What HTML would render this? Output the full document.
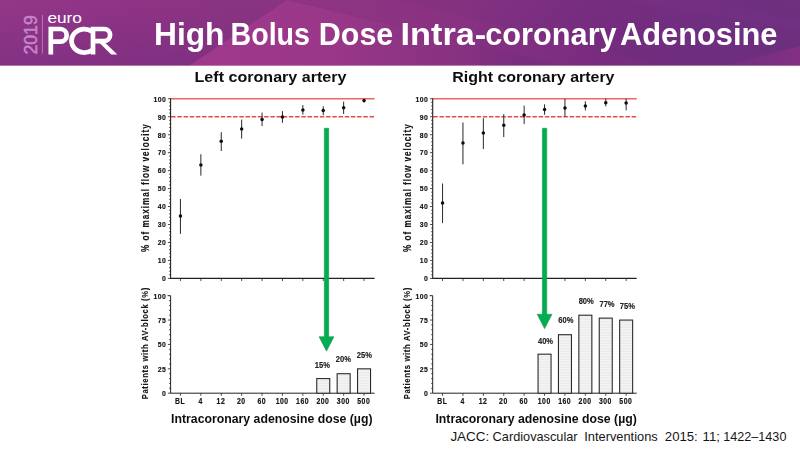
<!DOCTYPE html>
<html><head><meta charset="utf-8"><title>High Bolus Dose Intra-coronary Adenosine</title>
<style>
html,body{margin:0;padding:0;background:#fff;}
body{width:800px;height:450px;overflow:hidden;font-family:"Liberation Sans", sans-serif;}
svg{display:block;font-family:"Liberation Sans", sans-serif;}
</style></head><body>
<svg width="800" height="450" viewBox="0 0 800 450">
<defs>
<linearGradient id="hg" gradientUnits="userSpaceOnUse" x1="0" y1="0" x2="800" y2="0">
<stop offset="0" stop-color="#933688"/>
<stop offset="0.175" stop-color="#8f3385"/>
<stop offset="0.29" stop-color="#8b3483"/>
<stop offset="0.56" stop-color="#853180"/>
<stop offset="0.75" stop-color="#762d80"/>
<stop offset="0.9" stop-color="#702f80"/>
<stop offset="1" stop-color="#6f3080"/>
</linearGradient>
<linearGradient id="ld" x1="0" y1="0" x2="0" y2="1">
<stop offset="0" stop-color="#5a2878" stop-opacity="0"/>
<stop offset="1" stop-color="#5a2878" stop-opacity="0.27"/>
</linearGradient>
<linearGradient id="tri" gradientUnits="userSpaceOnUse" x1="200" y1="0" x2="520" y2="0">
<stop offset="0" stop-color="#c8429b" stop-opacity="0.30"/>
<stop offset="0.4" stop-color="#c8429b" stop-opacity="0.29"/>
<stop offset="0.64" stop-color="#c8429b" stop-opacity="0.11"/>
<stop offset="1" stop-color="#c8429b" stop-opacity="0"/>
</linearGradient>
<linearGradient id="br" gradientUnits="userSpaceOnUse" x1="725" y1="0" x2="800" y2="0">
<stop offset="0" stop-color="#a03287" stop-opacity="0.08"/>
<stop offset="1" stop-color="#a03287" stop-opacity="0.42"/>
</linearGradient>
<linearGradient id="bd" x1="0" y1="0" x2="0" y2="1">
<stop offset="0" stop-color="#5a2070" stop-opacity="0"/>
<stop offset="1" stop-color="#5a2070" stop-opacity="0.12"/>
</linearGradient>
<filter id="soft2" x="-2%" y="-20%" width="104%" height="140%"><feGaussianBlur stdDeviation="0.3"/></filter>
<filter id="soft" x="-5%" y="-5%" width="110%" height="110%"><feGaussianBlur stdDeviation="0.27"/></filter>
<pattern id="hatch" width="4" height="1.6" patternUnits="userSpaceOnUse">
<rect width="4" height="1.6" fill="#f6f6f6"/><rect y="0.8" width="4" height="0.8" fill="#e9e9e9"/>
</pattern>
</defs>
<rect width="800" height="450" fill="#fff"/>
<!-- header -->
<rect width="800" height="65.6" fill="url(#hg)"/>
<polygon points="0,0 287,0 189.5,65.6 0,65.6" fill="url(#ld)"/>
<polygon points="287,0 189.5,65.6 560,65.6" fill="url(#tri)"/>
<polygon points="290,0 400,0 660,65.6 560,65.6" fill="#c8429b" opacity="0.08"/>
<polygon points="480,0 800,0 800,65.6 480,65.6" fill="url(#bd)"/>
<polygon points="725,65.6 800,46 800,65.6" fill="url(#br)"/>
<polygon points="620,0 710,0 800,22 800,30" fill="#8a3a98" opacity="0.14"/>
<!-- logo -->
<text transform="translate(37 54.6) rotate(-90)" font-size="18.2" fill="#c985cc" stroke="#c985cc" stroke-width="0.5" textLength="39.4" lengthAdjust="spacingAndGlyphs">2019</text>
<line x1="42.4" y1="15" x2="42.4" y2="53.6" stroke="#c488c8" stroke-width="0.8"/>
<text x="47.4" y="22.8" font-size="14" fill="#fff" textLength="34.6" lengthAdjust="spacingAndGlyphs">euro</text>
<g fill="none" stroke="#fff" stroke-width="4.7" stroke-linejoin="miter">
<path d="M50.8 54.4V29H60.4a6.3 6.3 0 0 1 0 12.6H50.8"/>
<path d="M92.1 31.5A12.8 11.75 0 1 0 92.1 50.1"/>
<path d="M93 54.4V29H104a6.1 6.1 0 0 1 0 12.2H93"/>
</g>
<polygon points="99.6,43 105.4,43 117.3,54.4 111.2,54.4" fill="#fff"/>
<!-- title -->
<g filter="url(#soft2)">
<text x="154.0" y="44.5" font-size="31.3" font-weight="700" fill="#fff" textLength="70.5" lengthAdjust="spacingAndGlyphs">High</text>
<text x="230.5" y="44.5" font-size="31.3" font-weight="700" fill="#fff" textLength="79.5" lengthAdjust="spacingAndGlyphs">Bolus</text>
<text x="318.8" y="44.5" font-size="31.3" font-weight="700" fill="#fff" textLength="74.5" lengthAdjust="spacingAndGlyphs">Dose</text>
<text x="400.5" y="44.5" font-size="31.3" font-weight="700" fill="#fff" textLength="85.7" lengthAdjust="spacingAndGlyphs">Intra-</text>
<text x="485.2" y="44.5" font-size="31.3" font-weight="700" fill="#fff" textLength="131.5" lengthAdjust="spacingAndGlyphs">coronary</text>
<text x="620.0" y="44.5" font-size="31.3" font-weight="700" fill="#fff" textLength="157.5" lengthAdjust="spacingAndGlyphs">Adenosine</text>
</g>
<!-- charts -->
<g filter="url(#soft)"><text x="194.5" y="82.1" font-size="15.3" font-weight="700" fill="#111" textLength="152" lengthAdjust="spacingAndGlyphs">Left coronary artery</text>
<line x1="170.6" y1="98.75" x2="374.6" y2="98.75" stroke="#ec6663" stroke-width="1.5"/>
<line x1="171.1" y1="116.72" x2="374.6" y2="116.72" stroke="#e44c4c" stroke-width="1.35" stroke-dasharray="4.5 1.7"/>
<path d="M170.6 98.25V278.4H374.6" fill="none" stroke="#222" stroke-width="1.1"/>
<path d="M167.90 278.40H170.6M169.10 274.81H170.6M169.10 271.21H170.6M169.10 267.62H170.6M169.10 264.03H170.6M167.90 260.44H170.6M169.10 256.84H170.6M169.10 253.25H170.6M169.10 249.66H170.6M169.10 246.06H170.6M167.90 242.47H170.6M169.10 238.88H170.6M169.10 235.28H170.6M169.10 231.69H170.6M169.10 228.10H170.6M167.90 224.50H170.6M169.10 220.91H170.6M169.10 217.32H170.6M169.10 213.73H170.6M169.10 210.13H170.6M167.90 206.54H170.6M169.10 202.95H170.6M169.10 199.35H170.6M169.10 195.76H170.6M169.10 192.17H170.6M167.90 188.57H170.6M169.10 184.98H170.6M169.10 181.39H170.6M169.10 177.80H170.6M169.10 174.20H170.6M167.90 170.61H170.6M169.10 167.02H170.6M169.10 163.42H170.6M169.10 159.83H170.6M169.10 156.24H170.6M167.90 152.64H170.6M169.10 149.05H170.6M169.10 145.46H170.6M169.10 141.87H170.6M169.10 138.27H170.6M167.90 134.68H170.6M169.10 131.09H170.6M169.10 127.49H170.6M169.10 123.90H170.6M169.10 120.31H170.6M167.90 116.72H170.6M169.10 113.12H170.6M169.10 109.53H170.6M169.10 105.94H170.6M169.10 102.34H170.6M167.90 98.75H170.6M180.45 278.4v2.6M200.85 278.4v2.6M221.25 278.4v2.6M241.65 278.4v2.6M262.05 278.4v2.6M282.45 278.4v2.6M302.85 278.4v2.6M323.25 278.4v2.6M343.65 278.4v2.6M364.05 278.4v2.6" stroke="#222" stroke-width="0.8" fill="none"/>
<text transform="translate(166.10 281.25) scale(0.88 1)" font-size="7.8" font-weight="700" text-anchor="end" fill="#141414" stroke="#141414" stroke-width="0.18" letter-spacing="0.45">0</text>
<text transform="translate(166.10 263.29) scale(0.88 1)" font-size="7.8" font-weight="700" text-anchor="end" fill="#141414" stroke="#141414" stroke-width="0.18" letter-spacing="0.45">10</text>
<text transform="translate(166.10 245.32) scale(0.88 1)" font-size="7.8" font-weight="700" text-anchor="end" fill="#141414" stroke="#141414" stroke-width="0.18" letter-spacing="0.45">20</text>
<text transform="translate(166.10 227.35) scale(0.88 1)" font-size="7.8" font-weight="700" text-anchor="end" fill="#141414" stroke="#141414" stroke-width="0.18" letter-spacing="0.45">30</text>
<text transform="translate(166.10 209.39) scale(0.88 1)" font-size="7.8" font-weight="700" text-anchor="end" fill="#141414" stroke="#141414" stroke-width="0.18" letter-spacing="0.45">40</text>
<text transform="translate(166.10 191.42) scale(0.88 1)" font-size="7.8" font-weight="700" text-anchor="end" fill="#141414" stroke="#141414" stroke-width="0.18" letter-spacing="0.45">50</text>
<text transform="translate(166.10 173.46) scale(0.88 1)" font-size="7.8" font-weight="700" text-anchor="end" fill="#141414" stroke="#141414" stroke-width="0.18" letter-spacing="0.45">60</text>
<text transform="translate(166.10 155.49) scale(0.88 1)" font-size="7.8" font-weight="700" text-anchor="end" fill="#141414" stroke="#141414" stroke-width="0.18" letter-spacing="0.45">70</text>
<text transform="translate(166.10 137.53) scale(0.88 1)" font-size="7.8" font-weight="700" text-anchor="end" fill="#141414" stroke="#141414" stroke-width="0.18" letter-spacing="0.45">80</text>
<text transform="translate(166.10 119.56) scale(0.88 1)" font-size="7.8" font-weight="700" text-anchor="end" fill="#141414" stroke="#141414" stroke-width="0.18" letter-spacing="0.45">90</text>
<text transform="translate(166.10 101.60) scale(0.88 1)" font-size="7.8" font-weight="700" text-anchor="end" fill="#141414" stroke="#141414" stroke-width="0.18" letter-spacing="0.45">100</text>
<text transform="translate(149.30 251.9) rotate(-90) scale(0.76 1)" font-size="10.8" font-weight="700" fill="#141414" stroke="#141414" stroke-width="0.15" textLength="167.9" lengthAdjust="spacing">% of maximal flow velocity</text>
<line x1="180.45" y1="198.99" x2="180.45" y2="233.85" stroke="#2a2a2a" stroke-width="1.0"/>
<circle cx="180.45" cy="216.06" r="1.75" fill="#0d0d0d"/>
<line x1="200.85" y1="154.26" x2="200.85" y2="175.64" stroke="#2a2a2a" stroke-width="1.0"/>
<circle cx="200.85" cy="165.04" r="1.75" fill="#0d0d0d"/>
<line x1="221.25" y1="132.16" x2="221.25" y2="151.03" stroke="#2a2a2a" stroke-width="1.0"/>
<circle cx="221.25" cy="141.33" r="1.75" fill="#0d0d0d"/>
<line x1="241.65" y1="119.59" x2="241.65" y2="138.63" stroke="#2a2a2a" stroke-width="1.0"/>
<circle cx="241.65" cy="128.93" r="1.75" fill="#0d0d0d"/>
<line x1="262.05" y1="112.58" x2="262.05" y2="126.06" stroke="#2a2a2a" stroke-width="1.0"/>
<circle cx="262.05" cy="119.59" r="1.75" fill="#0d0d0d"/>
<line x1="282.45" y1="111.15" x2="282.45" y2="122.82" stroke="#2a2a2a" stroke-width="1.0"/>
<circle cx="282.45" cy="116.89" r="1.75" fill="#0d0d0d"/>
<line x1="302.85" y1="105.04" x2="302.85" y2="114.56" stroke="#2a2a2a" stroke-width="1.0"/>
<circle cx="302.85" cy="109.89" r="1.75" fill="#0d0d0d"/>
<line x1="323.25" y1="106.30" x2="323.25" y2="115.10" stroke="#2a2a2a" stroke-width="1.0"/>
<circle cx="323.25" cy="110.61" r="1.75" fill="#0d0d0d"/>
<line x1="343.65" y1="101.62" x2="343.65" y2="114.02" stroke="#2a2a2a" stroke-width="1.0"/>
<circle cx="343.65" cy="107.73" r="1.75" fill="#0d0d0d"/>
<line x1="364.05" y1="98.93" x2="364.05" y2="102.70" stroke="#2a2a2a" stroke-width="1.0"/>
<circle cx="364.05" cy="100.55" r="1.75" fill="#0d0d0d"/>
<path d="M167.6 295.7H170.6V393.2H374.6" fill="none" stroke="#222" stroke-width="1.0"/>
<path d="M167.90 393.20H170.6M169.10 388.32H170.6M169.10 383.45H170.6M169.10 378.57H170.6M169.10 373.70H170.6M167.90 368.82H170.6M169.10 363.95H170.6M169.10 359.07H170.6M169.10 354.20H170.6M169.10 349.32H170.6M167.90 344.45H170.6M169.10 339.57H170.6M169.10 334.70H170.6M169.10 329.82H170.6M169.10 324.95H170.6M167.90 320.07H170.6M169.10 315.20H170.6M169.10 310.32H170.6M169.10 305.45H170.6M169.10 300.57H170.6M180.45 393.2v2.6M200.85 393.2v2.6M221.25 393.2v2.6M241.65 393.2v2.6M262.05 393.2v2.6M282.45 393.2v2.6M302.85 393.2v2.6M323.25 393.2v2.6M343.65 393.2v2.6M364.05 393.2v2.6" stroke="#222" stroke-width="0.8" fill="none"/>
<text transform="translate(166.10 396.05) scale(0.88 1)" font-size="7.8" font-weight="700" text-anchor="end" fill="#141414" stroke="#141414" stroke-width="0.18" letter-spacing="0.45">0</text>
<text transform="translate(166.10 371.68) scale(0.88 1)" font-size="7.8" font-weight="700" text-anchor="end" fill="#141414" stroke="#141414" stroke-width="0.18" letter-spacing="0.45">25</text>
<text transform="translate(166.10 347.30) scale(0.88 1)" font-size="7.8" font-weight="700" text-anchor="end" fill="#141414" stroke="#141414" stroke-width="0.18" letter-spacing="0.45">50</text>
<text transform="translate(166.10 322.93) scale(0.88 1)" font-size="7.8" font-weight="700" text-anchor="end" fill="#141414" stroke="#141414" stroke-width="0.18" letter-spacing="0.45">75</text>
<text transform="translate(166.10 298.55) scale(0.88 1)" font-size="7.8" font-weight="700" text-anchor="end" fill="#141414" stroke="#141414" stroke-width="0.18" letter-spacing="0.45">100</text>
<text transform="translate(147.70 399.3) rotate(-90) scale(0.8 1)" font-size="9.5" font-weight="700" fill="#141414" stroke="#141414" stroke-width="0.15" textLength="139.5" lengthAdjust="spacing">Patients with AV-block (%)</text>
<text transform="translate(180.15 403.6) scale(0.84 1)" font-size="8.2" font-weight="700" text-anchor="middle" fill="#141414" stroke="#141414" stroke-width="0.18" letter-spacing="0.6">BL</text>
<text transform="translate(200.55 403.6) scale(0.84 1)" font-size="8.2" font-weight="700" text-anchor="middle" fill="#141414" stroke="#141414" stroke-width="0.18" letter-spacing="0.6">4</text>
<text transform="translate(220.95 403.6) scale(0.84 1)" font-size="8.2" font-weight="700" text-anchor="middle" fill="#141414" stroke="#141414" stroke-width="0.18" letter-spacing="0.6">12</text>
<text transform="translate(241.35 403.6) scale(0.84 1)" font-size="8.2" font-weight="700" text-anchor="middle" fill="#141414" stroke="#141414" stroke-width="0.18" letter-spacing="0.6">20</text>
<text transform="translate(261.75 403.6) scale(0.84 1)" font-size="8.2" font-weight="700" text-anchor="middle" fill="#141414" stroke="#141414" stroke-width="0.18" letter-spacing="0.6">60</text>
<text transform="translate(282.15 403.6) scale(0.84 1)" font-size="8.2" font-weight="700" text-anchor="middle" fill="#141414" stroke="#141414" stroke-width="0.18" letter-spacing="0.6">100</text>
<text transform="translate(302.55 403.6) scale(0.84 1)" font-size="8.2" font-weight="700" text-anchor="middle" fill="#141414" stroke="#141414" stroke-width="0.18" letter-spacing="0.6">160</text>
<text transform="translate(322.95 403.6) scale(0.84 1)" font-size="8.2" font-weight="700" text-anchor="middle" fill="#141414" stroke="#141414" stroke-width="0.18" letter-spacing="0.6">200</text>
<text transform="translate(343.35 403.6) scale(0.84 1)" font-size="8.2" font-weight="700" text-anchor="middle" fill="#141414" stroke="#141414" stroke-width="0.18" letter-spacing="0.6">300</text>
<text transform="translate(363.75 403.6) scale(0.84 1)" font-size="8.2" font-weight="700" text-anchor="middle" fill="#141414" stroke="#141414" stroke-width="0.18" letter-spacing="0.6">500</text>
<rect x="316.75" y="378.57" width="13.0" height="14.62" fill="url(#hatch)" stroke="#2c2c2c" stroke-width="1.1"/>
<text transform="translate(322.40 367.95) scale(0.88 1)" font-size="8.6" font-weight="700" text-anchor="middle" fill="#222" stroke="#222" stroke-width="0.15">15%</text>
<rect x="337.15" y="373.70" width="13.0" height="19.50" fill="url(#hatch)" stroke="#2c2c2c" stroke-width="1.1"/>
<text transform="translate(343.40 362.25) scale(0.88 1)" font-size="8.6" font-weight="700" text-anchor="middle" fill="#222" stroke="#222" stroke-width="0.15">20%</text>
<rect x="357.55" y="368.82" width="13.0" height="24.38" fill="url(#hatch)" stroke="#2c2c2c" stroke-width="1.1"/>
<text transform="translate(364.30 358.25) scale(0.88 1)" font-size="8.6" font-weight="700" text-anchor="middle" fill="#222" stroke="#222" stroke-width="0.15">25%</text>
<text x="171.10" y="423" font-size="12.6" font-weight="700" fill="#111" textLength="201.4" lengthAdjust="spacingAndGlyphs">Intracoronary adenosine dose (µg)</text>
<path d="M324.35 128.3H328.65V336.80H333.90L326.50 351.10L319.10 336.80H324.35Z" fill="#04ae50" stroke="#229a57" stroke-width="0.7" stroke-linejoin="miter"/></g>
<g filter="url(#soft)"><text x="452.3" y="82.1" font-size="15.3" font-weight="700" fill="#111" textLength="162.2" lengthAdjust="spacingAndGlyphs">Right coronary artery</text>
<line x1="432.7" y1="98.75" x2="636.7" y2="98.75" stroke="#ec6663" stroke-width="1.5"/>
<line x1="433.2" y1="116.72" x2="636.7" y2="116.72" stroke="#e44c4c" stroke-width="1.35" stroke-dasharray="4.5 1.7"/>
<path d="M432.7 98.25V278.4H636.7" fill="none" stroke="#222" stroke-width="1.1"/>
<path d="M430.00 278.40H432.7M431.20 274.81H432.7M431.20 271.21H432.7M431.20 267.62H432.7M431.20 264.03H432.7M430.00 260.44H432.7M431.20 256.84H432.7M431.20 253.25H432.7M431.20 249.66H432.7M431.20 246.06H432.7M430.00 242.47H432.7M431.20 238.88H432.7M431.20 235.28H432.7M431.20 231.69H432.7M431.20 228.10H432.7M430.00 224.50H432.7M431.20 220.91H432.7M431.20 217.32H432.7M431.20 213.73H432.7M431.20 210.13H432.7M430.00 206.54H432.7M431.20 202.95H432.7M431.20 199.35H432.7M431.20 195.76H432.7M431.20 192.17H432.7M430.00 188.57H432.7M431.20 184.98H432.7M431.20 181.39H432.7M431.20 177.80H432.7M431.20 174.20H432.7M430.00 170.61H432.7M431.20 167.02H432.7M431.20 163.42H432.7M431.20 159.83H432.7M431.20 156.24H432.7M430.00 152.64H432.7M431.20 149.05H432.7M431.20 145.46H432.7M431.20 141.87H432.7M431.20 138.27H432.7M430.00 134.68H432.7M431.20 131.09H432.7M431.20 127.49H432.7M431.20 123.90H432.7M431.20 120.31H432.7M430.00 116.72H432.7M431.20 113.12H432.7M431.20 109.53H432.7M431.20 105.94H432.7M431.20 102.34H432.7M430.00 98.75H432.7M442.55 278.4v2.6M462.95 278.4v2.6M483.35 278.4v2.6M503.75 278.4v2.6M524.15 278.4v2.6M544.55 278.4v2.6M564.95 278.4v2.6M585.35 278.4v2.6M605.75 278.4v2.6M626.15 278.4v2.6" stroke="#222" stroke-width="0.8" fill="none"/>
<text transform="translate(428.20 281.25) scale(0.88 1)" font-size="7.8" font-weight="700" text-anchor="end" fill="#141414" stroke="#141414" stroke-width="0.18" letter-spacing="0.45">0</text>
<text transform="translate(428.20 263.29) scale(0.88 1)" font-size="7.8" font-weight="700" text-anchor="end" fill="#141414" stroke="#141414" stroke-width="0.18" letter-spacing="0.45">10</text>
<text transform="translate(428.20 245.32) scale(0.88 1)" font-size="7.8" font-weight="700" text-anchor="end" fill="#141414" stroke="#141414" stroke-width="0.18" letter-spacing="0.45">20</text>
<text transform="translate(428.20 227.35) scale(0.88 1)" font-size="7.8" font-weight="700" text-anchor="end" fill="#141414" stroke="#141414" stroke-width="0.18" letter-spacing="0.45">30</text>
<text transform="translate(428.20 209.39) scale(0.88 1)" font-size="7.8" font-weight="700" text-anchor="end" fill="#141414" stroke="#141414" stroke-width="0.18" letter-spacing="0.45">40</text>
<text transform="translate(428.20 191.42) scale(0.88 1)" font-size="7.8" font-weight="700" text-anchor="end" fill="#141414" stroke="#141414" stroke-width="0.18" letter-spacing="0.45">50</text>
<text transform="translate(428.20 173.46) scale(0.88 1)" font-size="7.8" font-weight="700" text-anchor="end" fill="#141414" stroke="#141414" stroke-width="0.18" letter-spacing="0.45">60</text>
<text transform="translate(428.20 155.49) scale(0.88 1)" font-size="7.8" font-weight="700" text-anchor="end" fill="#141414" stroke="#141414" stroke-width="0.18" letter-spacing="0.45">70</text>
<text transform="translate(428.20 137.53) scale(0.88 1)" font-size="7.8" font-weight="700" text-anchor="end" fill="#141414" stroke="#141414" stroke-width="0.18" letter-spacing="0.45">80</text>
<text transform="translate(428.20 119.56) scale(0.88 1)" font-size="7.8" font-weight="700" text-anchor="end" fill="#141414" stroke="#141414" stroke-width="0.18" letter-spacing="0.45">90</text>
<text transform="translate(428.20 101.60) scale(0.88 1)" font-size="7.8" font-weight="700" text-anchor="end" fill="#141414" stroke="#141414" stroke-width="0.18" letter-spacing="0.45">100</text>
<text transform="translate(411.40 251.9) rotate(-90) scale(0.76 1)" font-size="10.8" font-weight="700" fill="#141414" stroke="#141414" stroke-width="0.15" textLength="167.9" lengthAdjust="spacing">% of maximal flow velocity</text>
<line x1="442.55" y1="183.54" x2="442.55" y2="223.07" stroke="#2a2a2a" stroke-width="1.0"/>
<circle cx="442.55" cy="202.95" r="1.75" fill="#0d0d0d"/>
<line x1="462.95" y1="122.46" x2="462.95" y2="164.32" stroke="#2a2a2a" stroke-width="1.0"/>
<circle cx="462.95" cy="142.94" r="1.75" fill="#0d0d0d"/>
<line x1="483.35" y1="118.15" x2="483.35" y2="149.05" stroke="#2a2a2a" stroke-width="1.0"/>
<circle cx="483.35" cy="133.06" r="1.75" fill="#0d0d0d"/>
<line x1="503.75" y1="114.20" x2="503.75" y2="137.02" stroke="#2a2a2a" stroke-width="1.0"/>
<circle cx="503.75" cy="125.16" r="1.75" fill="#0d0d0d"/>
<line x1="524.15" y1="105.58" x2="524.15" y2="124.08" stroke="#2a2a2a" stroke-width="1.0"/>
<circle cx="524.15" cy="114.92" r="1.75" fill="#0d0d0d"/>
<line x1="544.55" y1="104.32" x2="544.55" y2="114.74" stroke="#2a2a2a" stroke-width="1.0"/>
<circle cx="544.55" cy="109.53" r="1.75" fill="#0d0d0d"/>
<line x1="564.95" y1="98.75" x2="564.95" y2="116.72" stroke="#2a2a2a" stroke-width="1.0"/>
<circle cx="564.95" cy="108.09" r="1.75" fill="#0d0d0d"/>
<line x1="585.35" y1="101.27" x2="585.35" y2="110.43" stroke="#2a2a2a" stroke-width="1.0"/>
<circle cx="585.35" cy="105.94" r="1.75" fill="#0d0d0d"/>
<line x1="605.75" y1="98.75" x2="605.75" y2="106.30" stroke="#2a2a2a" stroke-width="1.0"/>
<circle cx="605.75" cy="102.70" r="1.75" fill="#0d0d0d"/>
<line x1="626.15" y1="98.75" x2="626.15" y2="110.43" stroke="#2a2a2a" stroke-width="1.0"/>
<circle cx="626.15" cy="102.88" r="1.75" fill="#0d0d0d"/>
<path d="M429.7 295.7H432.7V393.2H636.7" fill="none" stroke="#222" stroke-width="1.0"/>
<path d="M430.00 393.20H432.7M431.20 388.32H432.7M431.20 383.45H432.7M431.20 378.57H432.7M431.20 373.70H432.7M430.00 368.82H432.7M431.20 363.95H432.7M431.20 359.07H432.7M431.20 354.20H432.7M431.20 349.32H432.7M430.00 344.45H432.7M431.20 339.57H432.7M431.20 334.70H432.7M431.20 329.82H432.7M431.20 324.95H432.7M430.00 320.07H432.7M431.20 315.20H432.7M431.20 310.32H432.7M431.20 305.45H432.7M431.20 300.57H432.7M442.55 393.2v2.6M462.95 393.2v2.6M483.35 393.2v2.6M503.75 393.2v2.6M524.15 393.2v2.6M544.55 393.2v2.6M564.95 393.2v2.6M585.35 393.2v2.6M605.75 393.2v2.6M626.15 393.2v2.6" stroke="#222" stroke-width="0.8" fill="none"/>
<text transform="translate(428.20 396.05) scale(0.88 1)" font-size="7.8" font-weight="700" text-anchor="end" fill="#141414" stroke="#141414" stroke-width="0.18" letter-spacing="0.45">0</text>
<text transform="translate(428.20 371.68) scale(0.88 1)" font-size="7.8" font-weight="700" text-anchor="end" fill="#141414" stroke="#141414" stroke-width="0.18" letter-spacing="0.45">25</text>
<text transform="translate(428.20 347.30) scale(0.88 1)" font-size="7.8" font-weight="700" text-anchor="end" fill="#141414" stroke="#141414" stroke-width="0.18" letter-spacing="0.45">50</text>
<text transform="translate(428.20 322.93) scale(0.88 1)" font-size="7.8" font-weight="700" text-anchor="end" fill="#141414" stroke="#141414" stroke-width="0.18" letter-spacing="0.45">75</text>
<text transform="translate(428.20 298.55) scale(0.88 1)" font-size="7.8" font-weight="700" text-anchor="end" fill="#141414" stroke="#141414" stroke-width="0.18" letter-spacing="0.45">100</text>
<text transform="translate(409.80 399.3) rotate(-90) scale(0.8 1)" font-size="9.5" font-weight="700" fill="#141414" stroke="#141414" stroke-width="0.15" textLength="139.5" lengthAdjust="spacing">Patients with AV-block (%)</text>
<text transform="translate(442.25 403.6) scale(0.84 1)" font-size="8.2" font-weight="700" text-anchor="middle" fill="#141414" stroke="#141414" stroke-width="0.18" letter-spacing="0.6">BL</text>
<text transform="translate(462.65 403.6) scale(0.84 1)" font-size="8.2" font-weight="700" text-anchor="middle" fill="#141414" stroke="#141414" stroke-width="0.18" letter-spacing="0.6">4</text>
<text transform="translate(483.05 403.6) scale(0.84 1)" font-size="8.2" font-weight="700" text-anchor="middle" fill="#141414" stroke="#141414" stroke-width="0.18" letter-spacing="0.6">12</text>
<text transform="translate(503.45 403.6) scale(0.84 1)" font-size="8.2" font-weight="700" text-anchor="middle" fill="#141414" stroke="#141414" stroke-width="0.18" letter-spacing="0.6">20</text>
<text transform="translate(523.85 403.6) scale(0.84 1)" font-size="8.2" font-weight="700" text-anchor="middle" fill="#141414" stroke="#141414" stroke-width="0.18" letter-spacing="0.6">60</text>
<text transform="translate(544.25 403.6) scale(0.84 1)" font-size="8.2" font-weight="700" text-anchor="middle" fill="#141414" stroke="#141414" stroke-width="0.18" letter-spacing="0.6">100</text>
<text transform="translate(564.65 403.6) scale(0.84 1)" font-size="8.2" font-weight="700" text-anchor="middle" fill="#141414" stroke="#141414" stroke-width="0.18" letter-spacing="0.6">160</text>
<text transform="translate(585.05 403.6) scale(0.84 1)" font-size="8.2" font-weight="700" text-anchor="middle" fill="#141414" stroke="#141414" stroke-width="0.18" letter-spacing="0.6">200</text>
<text transform="translate(605.45 403.6) scale(0.84 1)" font-size="8.2" font-weight="700" text-anchor="middle" fill="#141414" stroke="#141414" stroke-width="0.18" letter-spacing="0.6">300</text>
<text transform="translate(625.85 403.6) scale(0.84 1)" font-size="8.2" font-weight="700" text-anchor="middle" fill="#141414" stroke="#141414" stroke-width="0.18" letter-spacing="0.6">500</text>
<rect x="538.05" y="354.20" width="13.0" height="39.00" fill="url(#hatch)" stroke="#2c2c2c" stroke-width="1.1"/>
<text transform="translate(545.50 344.45) scale(0.88 1)" font-size="8.6" font-weight="700" text-anchor="middle" fill="#222" stroke="#222" stroke-width="0.15">40%</text>
<rect x="558.45" y="334.70" width="13.0" height="58.50" fill="url(#hatch)" stroke="#2c2c2c" stroke-width="1.1"/>
<text transform="translate(565.80 323.15) scale(0.88 1)" font-size="8.6" font-weight="700" text-anchor="middle" fill="#222" stroke="#222" stroke-width="0.15">60%</text>
<rect x="578.85" y="315.20" width="13.0" height="78.00" fill="url(#hatch)" stroke="#2c2c2c" stroke-width="1.1"/>
<text transform="translate(586.20 304.15) scale(0.88 1)" font-size="8.6" font-weight="700" text-anchor="middle" fill="#222" stroke="#222" stroke-width="0.15">80%</text>
<rect x="599.25" y="318.12" width="13.0" height="75.08" fill="url(#hatch)" stroke="#2c2c2c" stroke-width="1.1"/>
<text transform="translate(607.00 307.25) scale(0.88 1)" font-size="8.6" font-weight="700" text-anchor="middle" fill="#222" stroke="#222" stroke-width="0.15">77%</text>
<rect x="619.65" y="320.07" width="13.0" height="73.12" fill="url(#hatch)" stroke="#2c2c2c" stroke-width="1.1"/>
<text transform="translate(627.40 308.95) scale(0.88 1)" font-size="8.6" font-weight="700" text-anchor="middle" fill="#222" stroke="#222" stroke-width="0.15">75%</text>
<text x="435.40" y="423" font-size="12.6" font-weight="700" fill="#111" textLength="201.4" lengthAdjust="spacingAndGlyphs">Intracoronary adenosine dose (µg)</text>
<path d="M542.45 128.3H546.75V314.30H552.00L544.60 328.60L537.20 314.30H542.45Z" fill="#04ae50" stroke="#229a57" stroke-width="0.7" stroke-linejoin="miter"/></g>
<!-- footer -->
<text x="450.4" y="441.3" font-size="13.2" fill="#161616" textLength="38.9" lengthAdjust="spacingAndGlyphs">JACC:</text>
<text x="492.6" y="441.3" font-size="13.2" fill="#161616" textLength="85.0" lengthAdjust="spacingAndGlyphs">Cardiovascular</text>
<text x="584.3" y="441.3" font-size="13.2" fill="#161616" textLength="73.4" lengthAdjust="spacingAndGlyphs">Interventions</text>
<text x="664.8" y="441.3" font-size="13.2" fill="#161616" textLength="33.0" lengthAdjust="spacingAndGlyphs">2015:</text>
<text x="702.6" y="441.3" font-size="13.2" fill="#161616" textLength="17.4" lengthAdjust="spacingAndGlyphs">11;</text>
<text x="723.3" y="441.3" font-size="13.2" fill="#161616" textLength="63.1" lengthAdjust="spacingAndGlyphs">1422–1430</text>
</svg>
</body></html>
